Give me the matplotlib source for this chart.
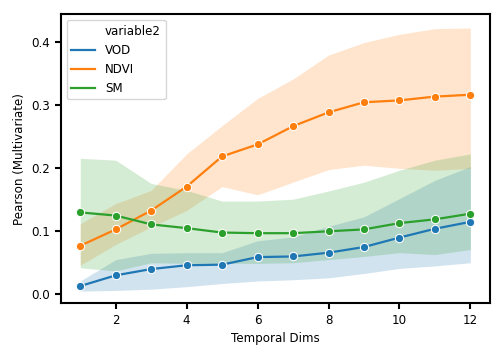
import matplotlib
matplotlib.use("Agg")
import matplotlib.pyplot as plt
from matplotlib.lines import Line2D

dims = [1, 2, 3, 4, 5, 6, 7, 8, 9, 10, 11, 12]

vod_mean = [0.013, 0.030, 0.040, 0.046, 0.047, 0.059, 0.060, 0.066, 0.075, 0.090, 0.104, 0.115]
vod_low = [0.005, 0.006, 0.008, 0.012, 0.017, 0.021, 0.023, 0.026, 0.033, 0.041, 0.045, 0.050]
vod_high = [0.021, 0.055, 0.065, 0.066, 0.066, 0.085, 0.091, 0.108, 0.123, 0.152, 0.181, 0.203]

ndvi_mean = [0.077, 0.103, 0.133, 0.171, 0.219, 0.238, 0.267, 0.289, 0.305, 0.308, 0.314, 0.317]
ndvi_low = [0.046, 0.079, 0.107, 0.133, 0.171, 0.158, 0.178, 0.198, 0.205, 0.200, 0.197, 0.200]
ndvi_high = [0.112, 0.144, 0.165, 0.223, 0.268, 0.311, 0.342, 0.380, 0.400, 0.413, 0.422, 0.423]

sm_mean = [0.130, 0.125, 0.111, 0.105, 0.098, 0.097, 0.097, 0.100, 0.103, 0.113, 0.119, 0.128]
sm_low = [0.042, 0.037, 0.050, 0.049, 0.049, 0.049, 0.050, 0.055, 0.060, 0.066, 0.063, 0.071]
sm_high = [0.216, 0.213, 0.176, 0.165, 0.148, 0.148, 0.151, 0.164, 0.178, 0.197, 0.213, 0.223]

names = ["VOD", "NDVI", "SM"]
colors = ["#1f77b4", "#ff7f0e", "#2ca02c"]

plt.rcParams["font.family"] = "DejaVu Sans"
plt.rcParams["font.size"] = 8.6

fig = plt.figure(figsize=(5.04, 3.6), dpi=100)
ax = fig.add_axes([0.1205, 0.157, 0.8515, 0.804])

series = [(vod_mean, vod_low, vod_high), (ndvi_mean, ndvi_low, ndvi_high), (sm_mean, sm_low, sm_high)]
for (mean, low, high), name, c in zip(series, names, colors):
    ax.fill_between(dims, low, high, color=c, alpha=0.2, linewidth=0)
    ax.plot(dims, mean, color=c, lw=1.6, marker="o", markersize=6,
            markeredgecolor="white", markeredgewidth=0.75, label=name)

ax.set_xlim(0.45, 12.55)
ax.set_ylim(-0.0147, 0.4452)
ax.set_xticks([2, 4, 6, 8, 10, 12])
ax.set_yticks([0.0, 0.1, 0.2, 0.3, 0.4])
ax.set_xlabel("Temporal Dims", fontsize=8.6)
ax.set_ylabel("Pearson (Multivariate)", fontsize=8.6)
for s in ax.spines.values():
    s.set_linewidth(1.5)
ax.tick_params(direction="out", length=4, width=1.5, labelsize=8.6)

handles = [Line2D([], [], color="none")] + [Line2D([], [], color=c, lw=1.6) for c in colors]
labels = ["variable2"] + names
ax.legend(handles, labels, loc="upper left", fontsize=8.6, frameon=True)

fig.savefig("out.png", dpi=100)
